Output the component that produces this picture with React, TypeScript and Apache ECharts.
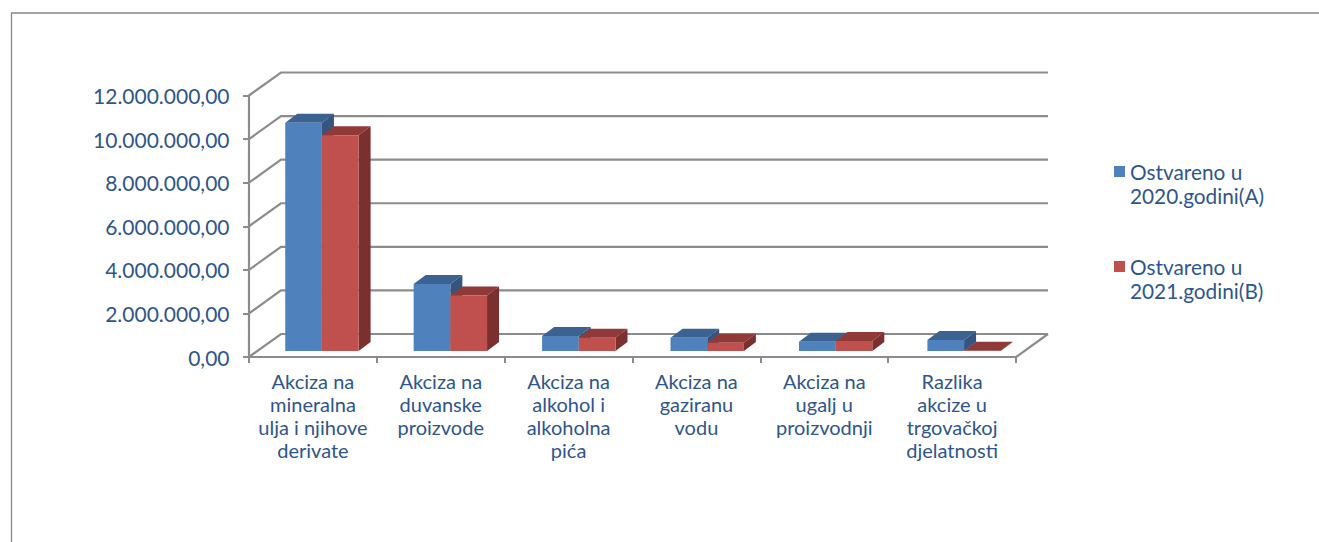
import React, { useEffect, useRef } from "react";
import * as echarts from "echarts";

const categories = [
  "Akciza na\nmineralna\nulja i njihove\nderivate",
  "Akciza na\nduvanske\nproizvode",
  "Akciza na\nalkohol i\nalkoholna\npića",
  "Akciza na\ngaziranu\nvodu",
  "Akciza na\nugalj u\nproizvodnji",
  "Razlika\nakcize u\ntrgovačkoj\ndjelatnosti",
];
const values2020 = [10470000, 3070000, 690000, 610000, 430000, 500000];
const values2021 = [9900000, 2550000, 610000, 380000, 460000, 15000];
const names = ["Ostvareno u 2020.godini(A)", "Ostvareno u 2021.godini(B)"];
const wallTicks = [0, 2000000, 4000000, 6000000, 8000000, 10000000, 12000000];

const FONT = "Lato";
const TEXT = "#2f568c";
const GRID = "#8c8c8c";
const LEGEND_ICON = "path://M0 0L11 0L11 0Z M0 7L11 7L11 18L0 18Z M0 49L11 49L11 49Z";

const DX = 32, DY = -23;

function fmt(v: number) {
  const s = Math.round(v).toString().replace(/\B(?=(\d{3})+(?!\d))/g, ".");
  return s + ",00";
}

function App() {
  const ref = useRef<HTMLDivElement>(null);
  useEffect(() => {
    const chart = echarts.init(ref.current!, undefined, { renderer: "svg" });
    const makeBar = (idx: number, front: string, top: string, side: string) =>
      (params: any, api: any) => {
        const cat = api.value(0);
        const val = api.value(1);
        const c0 = api.coord([cat, 0]);
        const c1 = api.coord([cat, val]);
        const band = api.size([1, 0])[0];
        const w = band * 0.287;
        const h = c0[1] - c1[1];
        const x0 = c0[0] + 9 + cat * 0.6 - w + idx * w;
        const y0 = c0[1] - 6;
        const yt = y0 - h;
        const dx = 12, dy = -9;
        const x1 = x0 + w;
        return {
          type: "group",
          children: [
            { type: "polygon", shape: { points: [[x1, y0], [x1 + dx, y0 + dy], [x1 + dx, yt + dy], [x1, yt]] }, style: { fill: side } },
            { type: "polygon", shape: { points: [[x0, yt], [x0 + dx, yt + dy], [x1 + dx, yt + dy], [x1, yt]] }, style: { fill: top } },
            { type: "rect", shape: { x: x0, y: yt, width: w, height: h }, style: { fill: front } },
          ],
        };
      };
    chart.setOption({
      animation: false,
      textStyle: { fontFamily: FONT },
      grid: { left: 249, top: 95.5, width: 767, height: 261.5, containLabel: false },
      legend: {
        orient: "vertical",
        left: 1114,
        top: 159,
        padding: 0,
        itemWidth: 11,
        itemHeight: 49,
        itemGap: 46,
        icon: LEGEND_ICON,
        formatter: (n: string) => n.replace("u ", "u\n"),
        textStyle: { color: TEXT, fontFamily: FONT, fontSize: 20.8, lineHeight: 24.5 },
        data: names,
      },
      xAxis: {
        type: "category",
        data: categories,
        axisLine: { lineStyle: { color: GRID, width: 2.2 } },
        axisTick: { show: true, alignWithLabel: false, length: 6, lineStyle: { color: GRID, width: 2 } },
        axisLabel: { color: TEXT, fontFamily: FONT, fontSize: 20, lineHeight: 23, margin: 12, interval: 0 },
      },
      yAxis: {
        type: "value",
        min: 0,
        max: 12000000,
        interval: 2000000,
        axisLine: { show: true, lineStyle: { color: GRID, width: 2.2 } },
        axisTick: { show: true, length: 6, lineStyle: { color: GRID, width: 2 } },
        splitLine: { show: false },
        axisLabel: { color: TEXT, fontFamily: FONT, fontSize: 21, margin: 19.5, formatter: fmt },
      },
      graphic: [
        { type: "polyline", shape: { points: [[11.5, 542], [11.5, 13], [1319, 13]] }, style: { stroke: "#888888", lineWidth: 1.3, fill: "none" } },
      ],
      series: [
        {
          type: "custom",
          name: "walls",
          silent: true,
          z: 1,
          data: wallTicks.map((v) => [0, v]),
          encode: { x: 0, y: 1 },
          renderItem: (params: any, api: any) => {
            const v = api.value(1);
            const p = api.coord([0, v]);
            const left = params.coordSys.x;
            const right = left + params.coordSys.width;
            const style = { stroke: GRID, lineWidth: 2.2, fill: "none" };
            const children: any[] = [
              { type: "polyline", shape: { points: [[left, p[1]], [left + DX, p[1] + DY], [right + DX, p[1] + DY]] }, style },
            ];
            if (v === 0) {
              children.push({ type: "line", shape: { x1: right, y1: p[1], x2: right + DX, y2: p[1] + DY }, style });
            }
            return { type: "group", children };
          },
        },
        {
          type: "custom",
          name: names[0],
          z: 2,
          itemStyle: { color: "#4f81bd" },
          data: values2020.map((v, i) => [i, v]),
          encode: { x: 0, y: 1 },
          renderItem: makeBar(0, "#4f81bd", "#3b6291", "#33557f"),
        },
        {
          type: "custom",
          name: names[1],
          z: 3,
          itemStyle: { color: "#c0504d" },
          data: values2021.map((v, i) => [i, v]),
          encode: { x: 0, y: 1 },
          renderItem: makeBar(1, "#c0504d", "#8f3a38", "#7a302e"),
        },
      ],
    });
    return () => chart.dispose();
  }, []);
  return <div ref={ref} style={{ position: "fixed", left: 0, top: 0, width: 1319, height: 542, background: "#fff" }} />;
}

export default App;
